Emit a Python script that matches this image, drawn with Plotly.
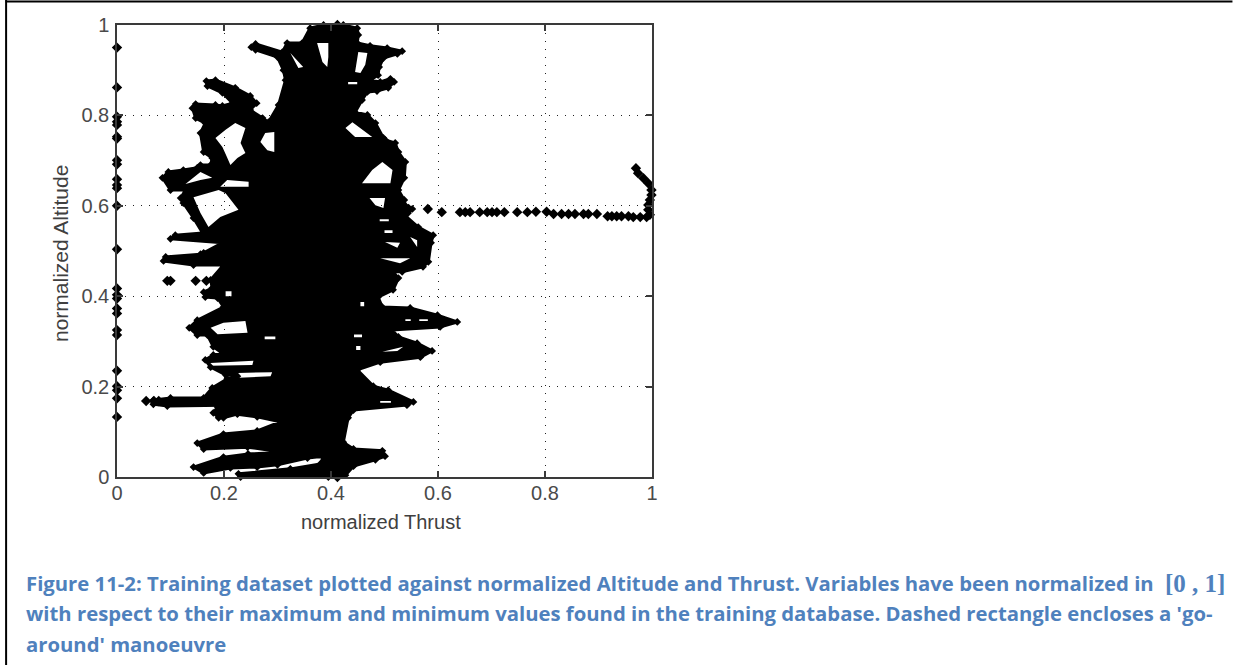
import plotly.graph_objects as go

# Axis rail: samples sitting at normalized Thrust = 0
rail_altitude = [.950,.862,.797,.786,.779,.753,.749,.701,.692,.659,.646,.639,.600,.504,.417,.403,.395,.373,.362,.325,.314,.235,.201,.192,.174,.133]

# Isolated samples
stray_thrust = [.0545,.069,.078,.094,.100,.147,.167]
stray_altitude = [.168,.168,.168,.434,.434,.434,.434]

# Go-around manoeuvre
goaround_thrust = [.545,.581,.607,.641,.651,.660,.678,.692,.701,.710,.724,.748,.767,.783,.803,.816,.831,.844,.856,.872,.881,.897,.917,.925,.934,.943,.956,.965,.978,.990,.996,.993,.993,.996,.999,.999,.993,.984,.974,.970]
goaround_altitude = [.593,.593,.586,.586,.586,.586,.586,.586,.586,.586,.586,.586,.586,.587,.587,.582,.582,.582,.582,.582,.582,.582,.577,.577,.577,.577,.577,.575,.575,.575,.580,.591,.602,.613,.624,.635,.650,.661,.672,.683]

# Peak samples poking past the frame
tip_thrust = [.412,.412]
tip_altitude = [1.0,0.0]

# Outline of the dense sample cloud (thrust, altitude)
cloud_outline = [
(.412,1.0),(.423,1.0),(.449,.993),(.451,.978),(.449,.960),(.473,.954),(.505,.949),(.533,.942),(.524,.936),(.498,.927),
(.490,.907),(.488,.889),(.473,.878),(.492,.874),(.511,.881),(.518,.874),(.507,.861),(.486,.854),(.468,.852),(.458,.834),
(.445,.807),(.468,.801),(.483,.783),(.498,.750),(.501,.746),(.520,.739),(.526,.719),(.539,.697),(.537,.662),(.526,.635),
(.537,.613),(.539,.600),(.552,.593),(.544,.584),(.537,.580),(.563,.553),(.591,.535),(.587,.518),(.582,.476),(.572,.465),
(.533,.454),(.516,.454),(.526,.440),(.516,.414),(.488,.398),(.496,.376),(.548,.374),(.599,.358),(.636,.343),(.604,.332),
(.514,.325),(.526,.310),(.561,.296),(.589,.279),(.567,.265),(.492,.254),(.449,.237),(.479,.201),(.507,.192),(.554,.166),
(.542,.159),(.442,.148),(.432,.131),(.423,.077),(.442,.062),(.496,.058),(.501,.046),(.483,.038),(.442,.024),(.427,.004),
(.412,0),(.395,0),(.231,0),(.227,.007),(.324,.018),(.380,.029),(.386,.046),(.356,.042),(.300,.027),(.262,.022),
(.212,.020),(.162,.009),(.143,.022),(.199,.044),(.245,.051),(.311,.055),(.244,.066),(.162,.062),(.150,.075),(.199,.095),
(.262,.102),(.305,.122),(.262,.133),(.225,.139),(.199,.131),(.190,.131),(.180,.142),(.188,.155),(.199,.159),(.094,.157),
(.068,.161),(.068,.170),(.100,.175),(.162,.175),(.178,.197),(.206,.217),(.225,.223),(.203,.226),(.175,.243),(.165,.259),
(.180,.270),(.197,.274),(.180,.288),(.169,.314),(.150,.314),(.135,.330),(.150,.347),(.199,.376),(.188,.396),(.165,.398),
(.162,.409),(.178,.418),(.175,.436),(.199,.469),(.143,.469),(.087,.478),(.091,.487),(.156,.493),(.162,.496),(.197,.518),
(.100,.527),(.109,.535),(.160,.540),(.143,.573),(.124,.606),(.119,.617),(.128,.635),(.100,.635),(.085,.662),(.096,.675),
(.124,.679),(.150,.684),(.156,.690),(.175,.690),(.178,.706),(.162,.719),(.156,.761),(.165,.783),(.147,.794),(.141,.816),
(.147,.825),(.184,.823),(.197,.821),(.216,.827),(.197,.850),(.169,.865),(.167,.876),(.184,.878),(.221,.861),(.249,.843),
(.261,.827),(.249,.812),(.272,.794),(.283,.785),(.302,.823),(.315,.878),(.311,.900),(.300,.929),(.259,.945),(.251,.951),
(.259,.958),(.309,.940),(.318,.960),(.346,.960),(.361,.993),(.386,1.0),
]

# Empty gaps inside the cloud (thrust, altitude)
cloud_gaps = [
[(.184,.750),(.203,.768),(.221,.783),(.240,.772),(.231,.739),(.240,.717),(.225,.706),(.212,.690),(.204,.712),(.197,.730)],
[(.268,.741),(.277,.761),(.294,.763),(.294,.719),(.281,.723)],
[(.128,.648),(.156,.675),(.178,.662),(.156,.657)],
[(.193,.642),(.206,.657),(.246,.653),(.246,.642)],
[(.143,.619),(.190,.635),(.203,.628),(.227,.591),(.193,.575),(.171,.553),(.156,.584)],
[(.374,.960),(.395,.960),(.395,.929),(.393,.907),(.384,.918)],
[(.451,.940),(.468,.938),(.464,.912),(.455,.894),(.445,.896)],
[(.324,.938),(.348,.907),(.339,.905)],
[(.427,.772),(.440,.785),(.477,.752),(.445,.752)],
[(.458,.650),(.477,.679),(.496,.697),(.515,.679),(.511,.650)],
[(.472,.617),(.501,.617),(.498,.595),(.483,.601)],
[(.492,.484),(.548,.484),(.529,.473)],
[(.501,.520),(.529,.518),(.524,.507)],
[(.548,.531),(.561,.524),(.561,.509)],
[(.496,.277),(.535,.288),(.524,.279)],
[(.175,.330),(.199,.341),(.240,.345),(.244,.319),(.188,.316)],
[(.175,.252),(.255,.257),(.253,.248),(.175,.246)],
[(.225,.230),(.290,.232),(.287,.223),(.218,.219)],
[(.455,.387),(.462,.387),(.462,.378),(.455,.378)],
[(.539,.349),(.549,.349),(.549,.345),(.539,.345)],
[(.565,.349),(.581,.349),(.581,.345),(.565,.345)],
[(.492,.168),(.512,.168),(.512,.164),(.492,.164)],
[(.432,.874),(.449,.874),(.449,.869),(.432,.869)],
[(.491,.570),(.508,.570),(.508,.566),(.491,.566)],
[(.500,.546),(.515,.546),(.515,.540),(.500,.540)],
[(.203,.411),(.214,.411),(.214,.400),(.203,.400)],
[(.276,.311),(.296,.311),(.296,.305),(.276,.305)],
[(.443,.315),(.458,.315),(.458,.309),(.443,.309)],
[(.447,.290),(.455,.290),(.455,.281),(.447,.281)],
]

tick_values = [0, 0.2, 0.4, 0.6, 0.8, 1]
tick_labels = ["0", "0.2", "0.4", "0.6", "0.8", "1"]
caption_lines = [
    "Figure 11-2: Training dataset plotted against normalized Altitude and Thrust. Variables have been normalized in",
    "with respect to their maximum and minimum values found in the training database. Dashed rectangle encloses a 'go-",
    "around' manoeuvre",
]

W, H = 1233, 665
L, R, T, B = 116.5, 652, 25, 477
px = lambda x: (x - L) / (R - L)
py = lambda y: (B - y) / (B - T)

outer_x = [p[0] for p in cloud_outline] + [cloud_outline[0][0]]
outer_y = [p[1] for p in cloud_outline] + [cloud_outline[0][1]]
cx, cy = list(outer_x), list(outer_y)
for gap in cloud_gaps:
    g = gap[::-1] + [gap[-1]]
    cx += [None] + [p[0] for p in g]
    cy += [None] + [p[1] for p in g]

fig = go.Figure()
fig.add_trace(go.Scatter(x=cx, y=cy, mode="lines", fill="toself", fillcolor="black",
                         line=dict(color="rgba(0,0,0,0)", width=0, simplify=False), hoverinfo="skip"))
fig.add_trace(go.Scatter(x=outer_x, y=outer_y, mode="lines+markers", cliponaxis=False, hoverinfo="skip",
                         line=dict(color="black", width=3, simplify=False),
                         marker=dict(symbol="diamond", color="black", size=6)))
marker = dict(symbol="diamond", color="black", size=8)
fig.add_trace(go.Scatter(x=[0]*len(rail_altitude), y=rail_altitude, mode="markers", marker=marker, cliponaxis=False))
fig.add_trace(go.Scatter(x=stray_thrust, y=stray_altitude, mode="markers", marker=marker, cliponaxis=False))
fig.add_trace(go.Scatter(x=goaround_thrust, y=goaround_altitude, mode="markers", marker=marker, cliponaxis=False))
fig.add_trace(go.Scatter(x=tip_thrust, y=tip_altitude, mode="markers", marker=marker, cliponaxis=False))

axis = dict(range=[0, 1], tickvals=tick_values, ticktext=tick_labels, showgrid=True, gridcolor="#222222",
            griddash="1px,7px", gridwidth=1, showline=True, linecolor="#3a3a3a", linewidth=1.5, mirror="ticks",
            ticks="inside", ticklen=6, tickcolor="#3a3a3a", tickwidth=1.5, zeroline=False,
            tickfont=dict(family="Liberation Sans", size=20, color="#4a4a4a"))
fig.update_xaxes(axis, ticklabelstandoff=-3)
fig.update_yaxes(axis, ticklabelstandoff=2)

fig.update_layout(
    width=W, height=H, autosize=False, showlegend=False, plot_bgcolor="white", paper_bgcolor="white",
    margin=dict(l=L, r=W-R, t=T, b=H-B, pad=0),
)

label = dict(xref="paper", yref="paper", showarrow=False, xanchor="center", yanchor="middle")
fig.add_annotation(label, x=px(381), y=py(522), text="normalized Thrust",
                   font=dict(family="Liberation Sans", size=20, color="#404040"))
fig.add_annotation(label, x=px(60), y=py(253.5), text="normalized Altitude", textangle=-90,
                   font=dict(family="Liberation Sans", size=21, color="#404040"))

frame = dict(type="line", xref="paper", yref="paper", line=dict(color="black", width=2))
fig.add_shape(frame, x0=px(5), x1=px(1233), y0=py(1.5), y1=py(1.5))
fig.add_shape(frame, x0=px(5.5), x1=px(5.5), y0=py(0), y1=py(665))

cap = dict(xref="paper", yref="paper", showarrow=False, xanchor="left", yanchor="middle",
           font=dict(family="Open Sans", size=20.3, color="#4F81BD"))
for line, y in zip(caption_lines, [583, 613, 644]):
    fig.add_annotation(cap, x=px(23.5), y=py(y), text=f"<b>{line}</b>")
fig.add_annotation(cap, x=px(1228), y=py(583), xanchor="right", text="<b>[0 , 1]</b>",
                   font=dict(family="Liberation Serif", size=25, color="#4F81BD"))

fig.write_html("out.html", config={"displayModeBar": False}, post_script="document.body.style.margin='0';")
